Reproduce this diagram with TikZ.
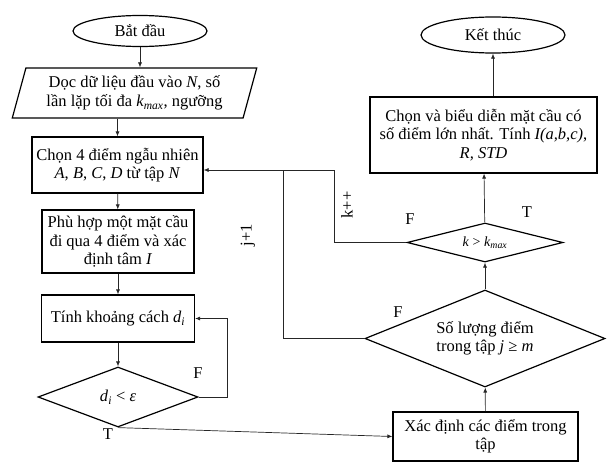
\documentclass[tikz,border=0pt]{standalone}
\usepackage{fontspec}
\setmainfont{Liberation Serif}
\usetikzlibrary{shapes.geometric,arrows.meta}

\tikzset{
        box/.style={draw,line width=1.2pt,rectangle,align=center,inner sep=0pt},
        term/.style={draw,line width=1.2pt,ellipse,inner sep=0pt},
        decide/.style={draw,line width=1.2pt,diamond,align=center,inner sep=0pt},
        inbox/.style={draw,line width=1.2pt,trapezium,trapezium left angle=72,trapezium right angle=108,
                trapezium stretches=true,align=center,inner sep=0pt},
        arr/.style={-{Latex[length=5pt,width=4pt]},line width=0.7pt,black!85},
        wire/.style={line width=0.7pt,black!85},
        lbl/.style={inner sep=0pt}
}

\begin{document}
\begin{tikzpicture}[x=1pt,y=-1pt,font=\fontsize{16.5}{18.5}\selectfont]
        \useasboundingbox (0,0) rectangle (612,463);

        \node[term,minimum width=134,minimum height=31] (start) at (140,31) {Bắt đầu};
        \node[inbox,minimum width=245,minimum height=50] (read) at (134.5,93)
                {Dọc dữ liệu đầu vào \textit{N}, số\\lần lặp tối đa \textit{k}\textsubscript{\textit{max}}, ngưỡng};
        \node[box,minimum width=171,minimum height=56] (choose) at (117.5,165)
                {Chọn 4 điểm ngẫu nhiên\\\textit{A}, \textit{B}, \textit{C}, \textit{D} từ tập \textit{N}};
        \node[box,minimum width=152,minimum height=63] (fit) at (118,241.5)
                {Phù hợp một mặt cầu\\đi qua 4 điểm và xác\\định tâm \textit{I}};
        \node[box,minimum width=153,minimum height=47] (dist) at (118,318.5)
                {Tính khoảng cách \textit{d}\textsubscript{\textit{i}}};
        \node[decide,aspect=2.7,minimum width=160,minimum height=60] (cond) at (118,397)
                {\textit{d}\textsubscript{\textit{i}} < \textit{ε}};

        \node[box,minimum width=185,minimum height=49] (find) at (485.5,436.5)
                {Xác định các điểm trong\\tập};
        \node[decide,aspect=2.5,minimum width=240,minimum height=97] (count) at (485,338.5)
                {Số lượng điểm\\trong tập \textit{j} ≥ \textit{m}};
        \node[decide,aspect=4,minimum width=156,minimum height=39,font=\fontsize{14}{16}\selectfont] (kcond) at (485,242.5)
                {\textit{k} > \textit{k}\textsubscript{\textit{max}}};
        \node[box,minimum width=227,minimum height=76] (result) at (483.5,135)
                {Chọn và biểu diễn mặt cầu có\\số điểm lớn nhất. Tính \textit{I(a,b,c)},\\\textit{R, STD}};
        \node[term,minimum width=144,minimum height=36] (stop) at (493,35) {Kết thúc};

        \coordinate (jturn) at (283,170);
        \coordinate (kturn) at (334,170);

        \draw[arr] (start |- start.south) -- (start |- read.north);
        \draw[arr] (read.south -| choose) -- (choose.north);
        \draw[arr] (choose) -- (fit);
        \draw[arr] (fit) -- (dist);
        \draw[arr] (dist) -- (cond);
        \draw[arr] (cond.east) -- ++(29,0) |- (dist.east);
        \draw[arr] (cond.south) -- (find.west);
        \draw[arr] (find) -- (count);
        \draw[arr] (count) -- (kcond);
        \draw[arr] (kcond) -- (result);
        \draw[arr] (stop |- result.north) -- (stop.south);
        \draw[arr] (kcond.west) -| (kturn) -- (kturn -| choose.east);
        \draw[wire] (count.west) -| (jturn);

        \node[lbl] (fdist) at (198,373) {F};
        \node[lbl] (tdist) at (108,434) {T};
        \node[lbl] (fcount) at (398,312) {F};
        \node[lbl] (fk) at (410,219) {F};
        \node[lbl] (tk) at (527,212) {T};
        \node[lbl,rotate=90] (jinc) at (248,235) {j+1};
        \node[lbl,rotate=90] (kinc) at (347,205) {k++};
\end{tikzpicture}
\end{document}
